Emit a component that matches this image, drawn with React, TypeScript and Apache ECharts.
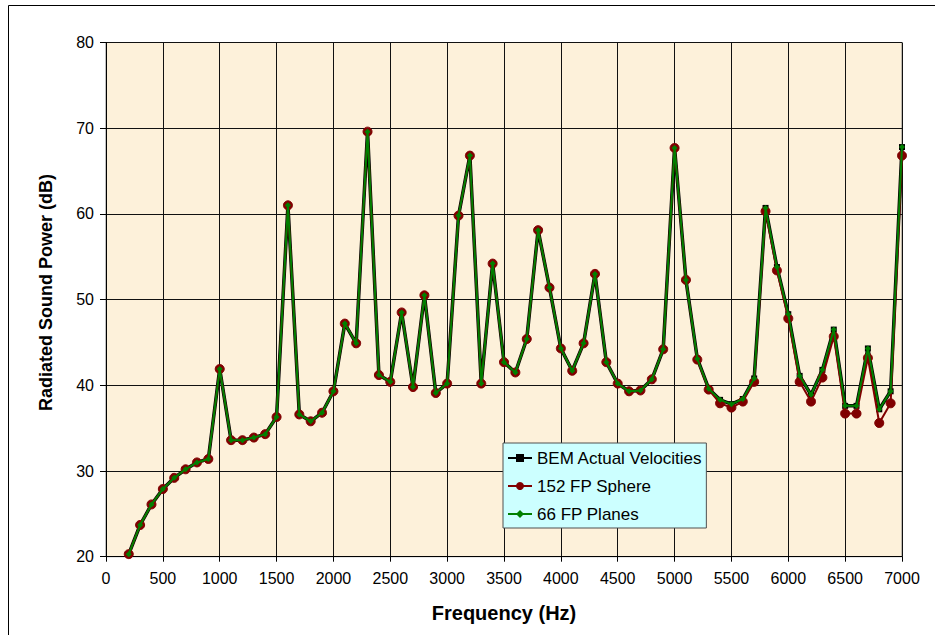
import React, { useEffect, useRef } from "react";
import * as echarts from "echarts";

const frequencies = [
  200, 300, 400, 500, 600, 700, 800, 900, 1000, 1100, 1200, 1300, 1400, 1500,
  1600, 1700, 1800, 1900, 2000, 2100, 2200, 2300, 2400, 2500, 2600, 2700, 2800,
  2900, 3000, 3100, 3200, 3300, 3400, 3500, 3600, 3700, 3800, 3900, 4000, 4100,
  4200, 4300, 4400, 4500, 4600, 4700, 4800, 4900, 5000, 5100, 5200, 5300, 5400,
  5500, 5600, 5700, 5800, 5900, 6000, 6100, 6200, 6300, 6400, 6500, 6600, 6700,
  6800, 6900, 7000,
];

const bemActual = [
  20.3, 23.7, 26.1, 27.9, 29.2, 30.2, 31.0, 31.4, 41.9, 33.6, 33.6, 33.9, 34.3,
  36.3, 61.0, 36.6, 35.8, 36.8, 39.3, 47.2, 44.9, 69.6, 41.2, 40.4, 48.5, 39.8,
  50.5, 39.1, 40.2, 59.8, 66.8, 40.2, 54.2, 42.7, 41.5, 45.4, 58.1, 51.4, 44.3,
  41.7, 44.9, 53.0, 42.7, 40.2, 39.3, 39.4, 40.7, 44.2, 67.7, 52.3, 43.1, 39.6,
  38.3, 37.8, 38.4, 40.8, 60.7, 53.8, 48.3, 41.1, 38.9, 41.8, 46.5, 37.6, 37.6,
  44.3, 37.2, 39.3, 67.8,
];

const sphere152 = [
  20.3, 23.7, 26.1, 27.9, 29.2, 30.2, 31.0, 31.4, 41.9, 33.6, 33.6, 33.9, 34.3,
  36.3, 61.0, 36.6, 35.8, 36.8, 39.3, 47.2, 44.9, 69.6, 41.2, 40.4, 48.5, 39.8,
  50.5, 39.1, 40.2, 59.8, 66.8, 40.2, 54.2, 42.7, 41.5, 45.4, 58.1, 51.4, 44.3,
  41.7, 44.9, 53.0, 42.7, 40.2, 39.3, 39.4, 40.7, 44.2, 67.7, 52.3, 43.0, 39.5,
  37.9, 37.4, 38.1, 40.4, 60.3, 53.4, 47.8, 40.4, 38.1, 40.9, 45.7, 36.7, 36.7,
  43.2, 35.6, 37.9, 66.8,
];

const planes66 = [
  20.3, 23.7, 26.1, 27.9, 29.2, 30.2, 31.0, 31.4, 41.9, 33.6, 33.6, 33.9, 34.3,
  36.3, 61.0, 36.6, 35.8, 36.8, 39.3, 47.2, 44.9, 69.6, 41.2, 40.4, 48.5, 39.8,
  50.5, 39.1, 40.2, 59.8, 66.8, 40.2, 54.2, 42.7, 41.5, 45.4, 58.1, 51.4, 44.3,
  41.7, 44.9, 53.0, 42.7, 40.2, 39.3, 39.4, 40.7, 44.2, 67.7, 52.3, 43.1, 39.6,
  38.3, 37.8, 38.4, 40.8, 60.7, 53.8, 48.3, 41.1, 38.9, 41.8, 46.5, 37.6, 37.6,
  44.3, 37.2, 39.3, 67.8,
];

const seriesNames = ["BEM Actual Velocities", "152 FP Sphere", "66 FP Planes"];
const xTitle = "Frequency (Hz)";
const yTitle = "Radiated Sound Power (dB)";

const FONT = "Arial, 'Liberation Sans', sans-serif";

function pairs(vals: number[]) {
  return frequencies.map((f, i) => [f, vals[i]]);
}

export default function App() {
  const ref = useRef<HTMLDivElement>(null);
  useEffect(() => {
    if (!ref.current) return;
    const chart = echarts.init(ref.current, undefined, { renderer: "svg" });
    chart.setOption({
      animation: false,
      backgroundColor: "#ffffff",
      textStyle: { fontFamily: FONT },
      grid: {
        left: 106,
        right: 33,
        top: 42.5,
        bottom: 78.3,
        show: true,
        backgroundColor: "#FDF1DA",
        borderColor: "#808080",
        borderWidth: 1,
      },
      xAxis: {
        type: "value",
        min: 0,
        max: 7000,
        interval: 500,
        axisLine: { show: true, lineStyle: { color: "#000", width: 1 } },
        axisTick: { show: true, inside: false, length: 5, lineStyle: { color: "#000" } },
        axisLabel: {
          color: "#000",
          fontSize: 16,
          fontFamily: FONT,
          margin: 14,
          formatter: (v: number) => String(v),
        },
        splitLine: { show: true, lineStyle: { color: "#111", width: 1 } },
      },
      yAxis: {
        type: "value",
        min: 20,
        max: 80,
        interval: 10,
        axisLine: { show: true, lineStyle: { color: "#000", width: 1 } },
        axisTick: { show: true, inside: false, length: 6, lineStyle: { color: "#000" } },
        axisLabel: {
          color: "#000",
          fontSize: 16,
          fontFamily: FONT,
          margin: 12,
          formatter: (v: number) => String(v),
        },
        splitLine: { show: true, lineStyle: { color: "#111", width: 1 } },
      },
      legend: {
        show: true,
        orient: "vertical",
        left: 503,
        top: 443,
        padding: [5, 4, 4, 4],
        itemGap: 8,
        itemWidth: 24,
        itemHeight: 10,
        backgroundColor: "#CCFFFF",
        borderColor: "#505050",
        borderWidth: 1,
        borderRadius: 0,
        textStyle: { color: "#000", fontSize: 17, fontFamily: FONT, lineHeight: 20 },
        data: seriesNames,
      },
      graphic: [
        {
          type: "rect",
          shape: { x: 8.5, y: 5.5, width: 2000, height: 2000 },
          style: { fill: "none", stroke: "#000", lineWidth: 1 },
          silent: true,
        },
        {
          type: "text",
          x: 504,
          y: 613,
          style: {
            text: xTitle,
            fontSize: 20,
            fontWeight: "bold",
            fontFamily: FONT,
            fill: "#000",
            align: "center",
            verticalAlign: "middle",
          },
        },
        {
          type: "text",
          x: 45.5,
          y: 292.5,
          rotation: Math.PI / 2,
          style: {
            text: yTitle,
            fontSize: 18,
            fontWeight: "bold",
            fontFamily: FONT,
            fill: "#000",
            align: "center",
            verticalAlign: "middle",
          },
        },
      ],
      series: [
        {
          name: seriesNames[0],
          type: "line",
          data: pairs(bemActual),
          symbol: "rect",
          symbolSize: 6,
          lineStyle: { color: "#000", width: 3.5 },
          itemStyle: { color: "#000" },
          z: 2,
        },
        {
          name: seriesNames[1],
          type: "line",
          data: pairs(sphere152),
          symbol: "circle",
          symbolSize: 9,
          lineStyle: { color: "#800000", width: 2 },
          itemStyle: { color: "#800000", borderColor: "#800000" },
          z: 3,
        },
        {
          name: seriesNames[2],
          type: "line",
          data: pairs(planes66),
          symbol: "diamond",
          symbolSize: 6,
          lineStyle: { color: "#008000", width: 2 },
          itemStyle: { color: "#008000" },
          z: 4,
        },
      ],
    });
    return () => chart.dispose();
  }, []);
  return (
    <div
      ref={ref}
      style={{ position: "fixed", left: 0, top: 0, width: 935, height: 635 }}
    />
  );
}
